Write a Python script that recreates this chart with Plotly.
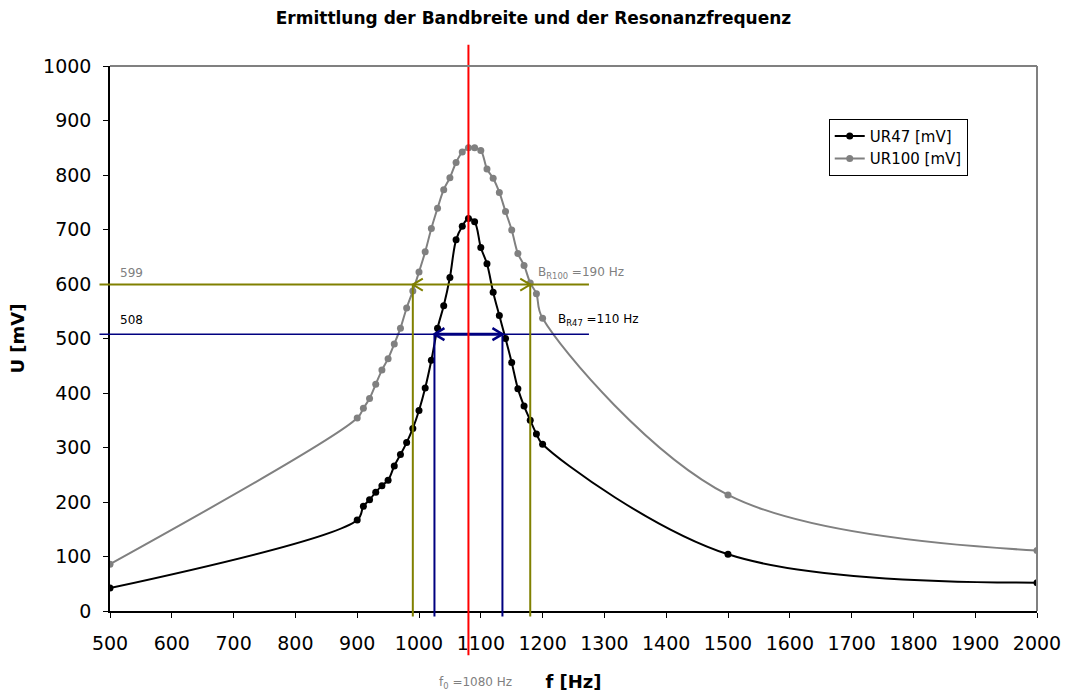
import plotly.graph_objects as go

# Measured frequencies [Hz]
freq = [500, 900, 910, 920, 930, 940, 950, 960, 970, 980, 990,
        1000, 1010, 1020, 1030, 1040, 1050, 1060, 1070, 1080, 1090,
        1100, 1110, 1120, 1130, 1140, 1150, 1160, 1170, 1180, 1190,
        1200, 1500, 2000]

# Voltage across R = 47 Ohm [mV]
ur47 = [42, 167, 192, 204, 218, 230, 240, 266, 287, 309, 335,
        368, 409, 460, 519, 560, 612, 681, 706, 720, 714,
        667, 637, 585, 542, 500, 456, 408, 376, 350, 325,
        306, 104, 52]

# Voltage across R = 100 Ohm [mV]
ur100 = [86, 354, 372, 390, 416, 442, 463, 490, 519, 556, 587,
         622, 659, 702, 739, 773, 795, 823, 842, 850, 850,
         845, 811, 794, 768, 733, 699, 656, 634, 602, 582,
         537, 213, 111]

# Evaluation values
f0 = 1080
level_r100 = 599          # 1/sqrt(2) of maximum, R = 100 Ohm
level_r47 = 508           # 1/sqrt(2) of maximum, R = 47 Ohm
band_r100 = [990, 1180]   # B = 190 Hz
band_r47 = [1025, 1135]   # B = 110 Hz
level_line_end = [483, 1275]

X_RANGE = [500, 2000]
Y_RANGE = [0, 1000]

FONT = "DejaVu Sans"
OLIVE = "#808000"
NAVY = "#000080"
GRAY = "#808080"


def xp(f):
    return (f - X_RANGE[0]) / (X_RANGE[1] - X_RANGE[0])


def yp(u):
    return (u - Y_RANGE[0]) / (Y_RANGE[1] - Y_RANGE[0])


def chevron(x, y, direction, color, width):
    """Open arrow head at (x, y) in data units, sized in pixels."""
    d = 10 * direction
    return dict(type="path", xref="x", yref="y",
                xsizemode="pixel", ysizemode="pixel",
                xanchor=x, yanchor=y,
                path="M%d,6 L0,0 L%d,-6" % (-d, -d),
                line=dict(color=color, width=width))


fig = go.Figure()
fig.add_trace(go.Scatter(
    x=freq, y=ur47, mode="lines+markers", name="UR47 [mV]",
    legendgroup="a",
    line=dict(color="black", width=2, shape="spline", smoothing=1.0),
    marker=dict(color="black", size=7)))
fig.add_trace(go.Scatter(
    x=freq, y=ur100, mode="lines+markers", name="UR100 [mV]",
    legendgroup="b",
    line=dict(color=GRAY, width=2, shape="spline", smoothing=1.0),
    marker=dict(color=GRAY, size=7)))

shapes = []
# horizontal level lines
shapes.append(dict(type="line", xref="paper", yref="y",
                   x0=xp(level_line_end[0]), x1=xp(level_line_end[1]),
                   y0=level_r100, y1=level_r100,
                   line=dict(color=OLIVE, width=2)))
shapes.append(dict(type="line", xref="paper", yref="y",
                   x0=xp(level_line_end[0]), x1=xp(level_line_end[1]),
                   y0=level_r47, y1=level_r47,
                   line=dict(color=NAVY, width=1.5)))
# vertical band limits
for f in band_r100:
    shapes.append(dict(type="line", xref="x", yref="paper",
                       x0=f, x1=f, y0=-0.01, y1=yp(level_r100),
                       line=dict(color=OLIVE, width=2)))
for f in band_r47:
    shapes.append(dict(type="line", xref="x", yref="paper",
                       x0=f, x1=f, y0=-0.01, y1=yp(level_r47),
                       line=dict(color=NAVY, width=2)))
# bandwidth arrows
shapes.append(chevron(band_r100[0], level_r100, -1, OLIVE, 2))
shapes.append(chevron(band_r100[1], level_r100, 1, OLIVE, 2))
shapes.append(dict(type="line", xref="x", yref="y",
                   x0=band_r47[0], x1=band_r47[1],
                   y0=level_r47, y1=level_r47,
                   line=dict(color=NAVY, width=3)))
shapes.append(chevron(band_r47[0], level_r47, -1, NAVY, 2.5))
shapes.append(chevron(band_r47[1], level_r47, 1, NAVY, 2.5))
# resonance frequency
shapes.append(dict(type="line", xref="x", yref="paper",
                   x0=f0, x1=f0, y0=-0.081, y1=1.039,
                   line=dict(color="#ff0000", width=2)))
# plot frame (top / right)
shapes.append(dict(type="line", xref="paper", yref="paper",
                   x0=0, x1=1, y0=1, y1=1, line=dict(color=GRAY, width=2)))
shapes.append(dict(type="line", xref="paper", yref="paper",
                   x0=1, x1=1, y0=0, y1=1, line=dict(color=GRAY, width=2)))

annotations = []
# level labels
annotations.append(dict(
    x=0.009, y=level_r100, xref="paper", yref="y", yshift=12,
    text=str(level_r100), showarrow=False, xanchor="left",
    font=dict(family=FONT, size=12, color=GRAY)))
annotations.append(dict(
    x=0.009, y=level_r47, xref="paper", yref="y", yshift=14,
    text=str(level_r47), showarrow=False, xanchor="left",
    font=dict(family=FONT, size=12, color="black")))
annotations.append(dict(
    x=band_r100[1], y=level_r100, xref="x", yref="y", xshift=6, yshift=12,
    text="B<sub>R100</sub> =%d Hz" % (band_r100[1] - band_r100[0]),
    showarrow=False, xanchor="left",
    font=dict(family=FONT, size=12, color=GRAY)))
annotations.append(dict(
    x=band_r47[1], y=level_r47, xref="x", yref="y", xshift=54, yshift=14,
    text="B<sub>R47</sub> =%d Hz" % (band_r47[1] - band_r47[0]),
    showarrow=False, xanchor="left",
    font=dict(family=FONT, size=12, color="black")))
annotations.append(dict(
    x=f0, y=-0.15, xref="x", yref="paper", xshift=7,
    text="f<sub>0</sub> =%d Hz" % f0, showarrow=False,
    font=dict(family=FONT, size=12, color=GRAY)))

fig.update_layout(
    width=1067, height=695,
    margin=dict(l=110, r=30, t=66, b=84),
    paper_bgcolor="white", plot_bgcolor="white",
    font=dict(family=FONT, color="black"),
    title=dict(text="<b>Ermittlung der Bandbreite und der Resonanzfrequenz</b>",
               x=0.5, xref="container", xanchor="center",
               y=0.974, yref="container", yanchor="middle",
               font=dict(family=FONT, size=17, color="black")),
    xaxis=dict(range=X_RANGE, dtick=100, tick0=500, automargin=False,
               showgrid=False, zeroline=False,
               showline=True, linecolor="black", linewidth=1.5,
               ticks="outside", ticklen=5, tickcolor="black",
               ticklabelstandoff=9,
               tickfont=dict(family=FONT, size=19, color="black"),
               title=dict(text="<b>f [Hz]</b>", standoff=23,
                          font=dict(family=FONT, size=18, color="black"))),
    yaxis=dict(range=Y_RANGE, dtick=100, automargin=False,
               showgrid=False, zeroline=False,
               showline=True, linecolor="black", linewidth=1.5,
               ticks="outside", ticklen=5, tickcolor="black",
               ticklabelstandoff=8,
               tickfont=dict(family=FONT, size=19, color="black"),
               title=dict(text="<b>U [mV]</b>", standoff=14,
                          font=dict(family=FONT, size=18, color="black"))),
    legend=dict(x=xp(1663), y=0.903, xanchor="left", yanchor="top",
                bgcolor="white", bordercolor="black", borderwidth=1,
                tracegroupgap=0,
                font=dict(family=FONT, size=15, color="black")),
    shapes=shapes,
    annotations=annotations,
)

fig.write_html("out.html")
